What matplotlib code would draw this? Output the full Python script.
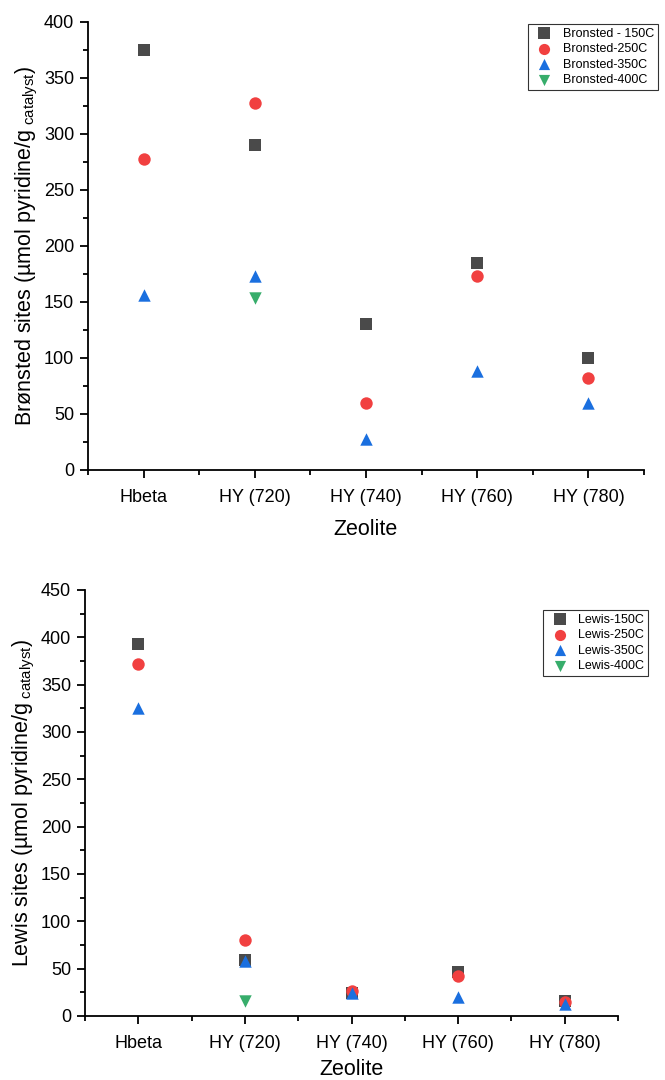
import matplotlib
matplotlib.use("Agg")
import matplotlib.pyplot as plt
from matplotlib.ticker import MultipleLocator

plt.rcParams['font.family'] = ['Liberation Sans', 'DejaVu Sans']
plt.rcParams['mathtext.fontset'] = 'custom'
plt.rcParams['mathtext.rm'] = 'Liberation Sans'
plt.rcParams['mathtext.it'] = 'Liberation Sans'

zeolites = ['Hbeta', 'HY (720)', 'HY (740)', 'HY (760)', 'HY (780)']

# Bronsted sites (umol pyridine / g catalyst)
bronsted_150 = [375, 290, 130, 185, 100]
bronsted_250 = [278, 328, 60, 173, 82]
bronsted_350 = [156, 173, 28, 88, 60]
bronsted_400 = [None, 154, None, None, None]

# Lewis sites
lewis_150 = [393, 59, 24, 46, 16]
lewis_250 = [372, 80, 26, 42, 15]
lewis_350 = [325, 58, 24, 20, 13]
lewis_400 = [None, 16, None, None, None]

colors = ['#4a4a4a', '#f14040', '#1a6fdf', '#37ad6b']
markers = ['s', 'o', '^', 'v']


def draw(ax, series, labels, ymax, ylabel, legend_anchor, xlabelpad):
    x = list(range(1, len(zeolites) + 1))
    for vals, lab, c, m in zip(series, labels, colors, markers):
        xs = [xi for xi, v in zip(x, vals) if v is not None]
        ys = [v for v in vals if v is not None]
        ax.scatter(xs, ys, s=80, marker=m, color=c, label=lab, zorder=3,
                   linewidths=0, clip_on=False)
    ax.set_xlim(0.5, 5.5)
    ax.set_ylim(0, ymax)
    ax.set_xticks(x)
    ax.set_xticklabels(zeolites)
    ax.set_xticks([0.5, 1.5, 2.5, 3.5, 4.5, 5.5], minor=True)
    ax.yaxis.set_major_locator(MultipleLocator(50))
    ax.yaxis.set_minor_locator(MultipleLocator(25))
    ax.spines['top'].set_visible(False)
    ax.spines['right'].set_visible(False)
    for s in ['left', 'bottom']:
        ax.spines[s].set_linewidth(1.3)
    ax.tick_params(which='major', direction='out', length=6, width=1.3, labelsize=13)
    ax.tick_params(which='minor', direction='out', length=3.5, width=1.3)
    ax.tick_params(axis='x', pad=8)
    ax.tick_params(axis='y', pad=4)
    ax.set_xlabel('Zeolite', fontsize=15.5, labelpad=xlabelpad)
    ax.set_ylabel(ylabel, fontsize=15.5, labelpad=3)
    leg = ax.legend(loc='upper right', bbox_to_anchor=legend_anchor,
                    bbox_transform=fig.transFigure, fontsize=9, frameon=True,
                    fancybox=False, edgecolor='black', handletextpad=0.5,
                    borderpad=0.3, labelspacing=0.28, markerscale=0.9,
                    borderaxespad=0)
    leg.get_frame().set_linewidth(0.8)


fig = plt.figure(figsize=(6.65, 10.8), dpi=100)
ax1 = fig.add_axes([88 / 665, 1 - 470 / 1080, (644 - 88) / 665, (470 - 22) / 1080])
ax2 = fig.add_axes([85 / 665, 1 - 1016 / 1080, (618 - 85) / 665, (1016 - 590) / 1080])

draw(ax1, [bronsted_150, bronsted_250, bronsted_350, bronsted_400],
     ['Bronsted - 150C', 'Bronsted-250C', 'Bronsted-350C', 'Bronsted-400C'],
     400, r'Brønsted sites (µmol pyridine/g$_{\ \mathrm{catalyst}}$)',
     (658 / 665, 1 - 24 / 1080), 9)
draw(ax2, [lewis_150, lewis_250, lewis_350, lewis_400],
     ['Lewis-150C', 'Lewis-250C', 'Lewis-350C', 'Lewis-400C'],
     450, r'Lewis sites (µmol pyridine/g$_{\ \mathrm{catalyst}}$)',
     (648 / 665, 1 - 610 / 1080), 5)

fig.savefig('out.png', dpi=100)
